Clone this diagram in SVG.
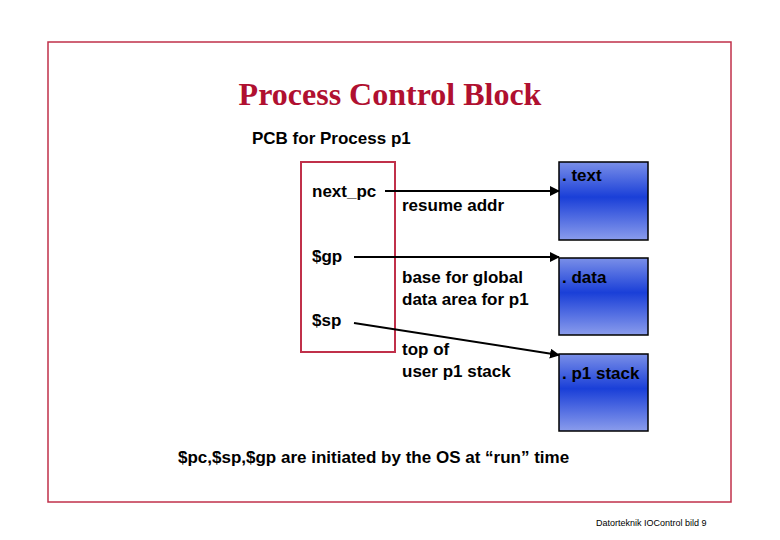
<svg xmlns="http://www.w3.org/2000/svg" width="780" height="540" viewBox="0 0 780 540">
<style>
.t{font-family:"Liberation Sans",Arial,sans-serif;font-weight:bold;font-size:17px;fill:#000}
.seg{stroke:#000;stroke-width:1.5;fill:url(#g)}
.c{stroke:#000;stroke-width:2;fill:none;marker-end:url(#a)}
</style>
<defs>
<linearGradient id="g" x1="0" y1="0" x2="0" y2="1">
<stop offset="0" stop-color="#7a8fe8"/><stop offset="0.45" stop-color="#1a3fd8"/><stop offset="1" stop-color="#8a9cec"/>
</linearGradient>
<marker id="a" viewBox="0 0 10 10" refX="9" refY="5" markerWidth="5" markerHeight="5" orient="auto"><path d="M0,0L10,5L0,10z" fill="#000"/></marker>
</defs>
<rect width="780" height="540" fill="#fff"/>
<rect x="48" y="42" width="683" height="460" fill="none" stroke="#c0304a" stroke-width="1.5"/>
<text x="390" y="105" text-anchor="middle" style="font-family:'Liberation Serif','Times New Roman',serif;font-weight:bold;font-size:32px;fill:#b01030">Process Control Block</text>
<text class="t" x="252" y="144">PCB for Process p1</text>
<g id="pcb"><rect x="301" y="162" width="94" height="190" fill="none" stroke="#c0304a" stroke-width="2"/>
<text class="t" x="312" y="197">next_pc</text><text class="t" x="312" y="262">$gp</text><text class="t" x="312" y="326">$sp</text></g>
<g id="text-seg"><rect class="seg" x="559" y="162" width="89" height="78"/><text class="t" x="562" y="181">. text</text></g>
<g id="data-seg"><rect class="seg" x="559" y="258" width="89" height="77"/><text class="t" x="562" y="283">. data</text></g>
<g id="stack-seg"><rect class="seg" x="559" y="354" width="89" height="77"/><text class="t" x="562" y="379">. p1 stack</text></g>
<g id="connectors">
<line class="c" x1="385" y1="191" x2="559" y2="191"/>
<line class="c" x1="354" y1="257" x2="559" y2="257"/>
<line class="c" x1="354" y1="323" x2="559" y2="355"/>
</g>
<text class="t" x="402" y="211">resume addr</text>
<text class="t" x="402" y="283">base for global</text><text class="t" x="402" y="305">data area for p1</text>
<text class="t" x="402" y="355">top of</text><text class="t" x="402" y="377">user p1 stack</text>
<text class="t" x="178" y="463">$pc,$sp,$gp are initiated by the OS at “run” time</text>
<text x="596" y="526" style="font-family:'Liberation Sans',Arial,sans-serif;font-size:9px">Datorteknik IOControl bild 9</text>
</svg>
